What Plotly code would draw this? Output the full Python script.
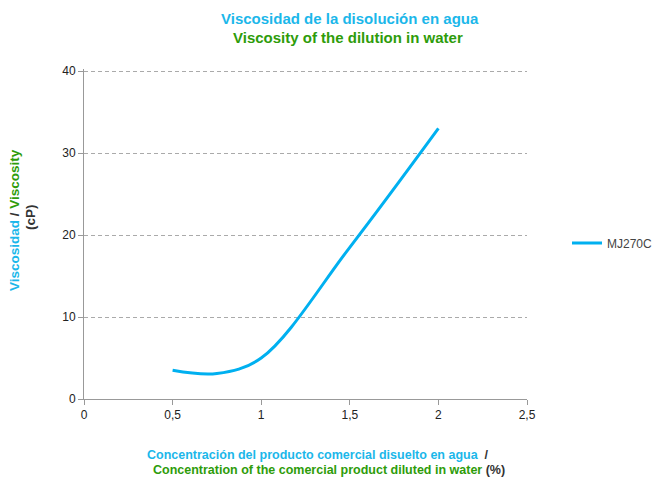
import plotly.graph_objects as go

concentration = [0.5, 0.75, 1.0, 1.5, 2.0]
viscosity = [3.5, 3.1, 5.0, 18.5, 33.0]
series_name = "MJ270C"
x_ticks = [0, 0.5, 1, 1.5, 2, 2.5]
y_ticks = [0, 10, 20, 30, 40]

CYAN = "#1BB7EA"
GREEN = "#2E9C0A"
DARK = "#333333"
FONT = "Liberation Sans, Arial, sans-serif"
W, H = 654, 477
L, R, T, B = 84, 127, 69, 78
PW, PH = W - L - R, H - T - B

fig = go.Figure()
fig.add_trace(go.Scatter(
    x=concentration, y=viscosity, name=series_name, mode="lines",
    line=dict(color="#00B0F0", width=3, shape="spline", smoothing=1.0),
))

fig.update_layout(
    width=W, height=H, autosize=False,
    margin=dict(l=L, r=R, t=T, b=B),
    paper_bgcolor="white", plot_bgcolor="white",
    separators=", ",
    font=dict(family=FONT, size=12, color=DARK),
    showlegend=True,
    legend=dict(xref="container", yref="container", x=567 / W, y=1 - 243 / H,
                xanchor="left", yanchor="middle",
                font=dict(size=12, color="#444444"), bgcolor="rgba(0,0,0,0)",
                itemwidth=30),
    xaxis=dict(range=[0, 2.5], tickvals=x_ticks, showgrid=False,
               showline=True, linecolor="#999999", linewidth=1,
               ticks="outside", ticklen=5, tickcolor="#999999",
               zeroline=False, tickfont=dict(size=12, color="#222222")),
    yaxis=dict(range=[0, 40.25], tickvals=y_ticks, showgrid=True,
               gridcolor="#AAAAAA", griddash="4px,3px", gridwidth=1,
               showline=True, linecolor="#999999", linewidth=1,
               ticks="outside", ticklen=5, tickcolor="#999999",
               zeroline=False, tickfont=dict(size=12, color="#222222")),
)


def ann(text, x, y, size, angle=0):
    fig.add_annotation(
        xref="paper", yref="paper",
        x=(x - L) / PW, y=(H - B - y) / PH,
        xanchor="center", yanchor="middle", showarrow=False, textangle=angle,
        text=text, font=dict(family=FONT, size=size), align="center",
    )


ann(f"<b><span style='color:{CYAN}'>Viscosidad de la disolución en agua</span></b>", 350, 19, 15)
ann(f"<b><span style='color:{GREEN}'>Viscosity of the dilution in water</span></b>", 348, 37, 15)

ann(f"<b><span style='color:{CYAN}'>Viscosidad</span>"
    f"<span style='color:{DARK}'> / </span>"
    f"<span style='color:{GREEN}'>Viscosity</span></b>", 15, 220, 13.5, -90)
ann(f"<b><span style='color:{DARK}'>(cP)</span></b>", 30, 217, 13.5, -90)

ann(f"<b><span style='color:{CYAN}'>Concentración del producto comercial disuelto en agua</span>"
    f"<span style='color:{DARK}'>  /</span></b>", 318, 455, 12.5)
ann(f"<b><span style='color:{GREEN}'>Concentration of the comercial product diluted in water</span>"
    f"<span style='color:{DARK}'> (%)</span></b>", 329, 470, 12.5)

fig.write_html("out.html", config={"displayModeBar": False},
               post_script="document.body.style.margin='0';")
